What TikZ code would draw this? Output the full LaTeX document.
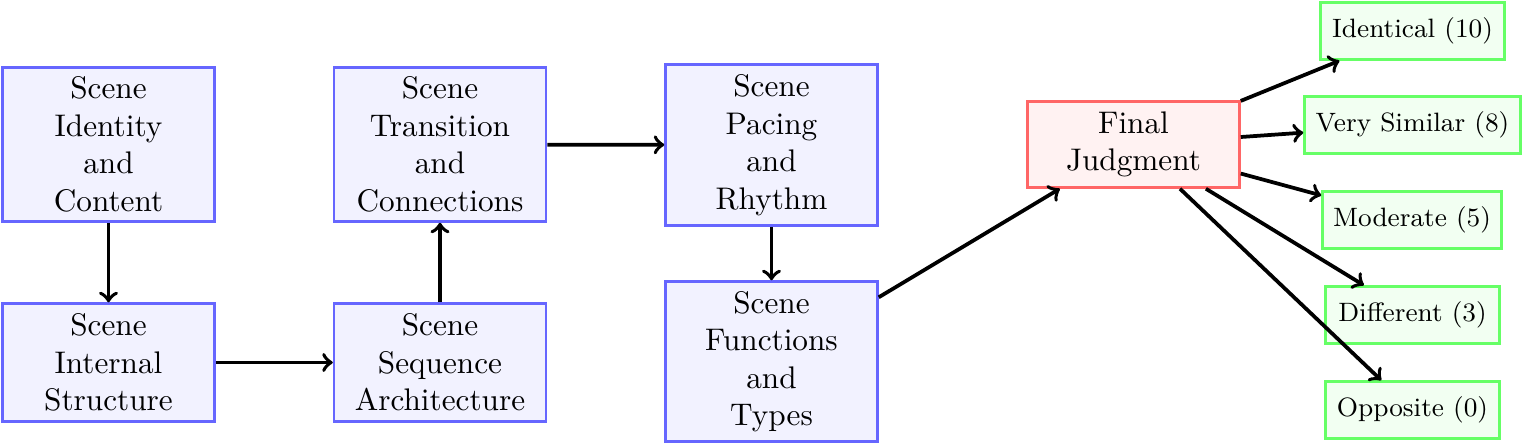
\documentclass[tikz,border=0pt]{standalone}
\begin{document}
\begin{tikzpicture}[x=0.32pt,y=-0.32pt,
  box/.style={draw, thick, rectangle, align=center, inner sep=0pt},
  bluebox/.style={box, draw=blue!60, fill=blue!5, minimum width=212*0.32pt},
  redbox/.style={box, draw=red!60, fill=red!5, minimum width=212*0.32pt, minimum height=86*0.32pt},
  greenbox/.style={box, draw=green!60, fill=green!5, minimum height=57*0.32pt, font=\fontsize{8.5pt}{10pt}\selectfont},
  arr/.style={->, very thick, black}]
\useasboundingbox (0,0) rectangle (1522,446);
\node[bluebox, minimum height=154*0.32pt] (id) at (108.5,144.5) {Scene\\Identity\\and\\Content};
\node[bluebox, minimum height=118*0.32pt] (internal) at (108.5,362.5) {Scene\\Internal\\Structure};
\node[bluebox, minimum height=118*0.32pt] (seq) at (440,362.5) {Scene\\Sequence\\Architecture};
\node[bluebox, minimum height=154*0.32pt] (trans) at (440,144.5) {Scene\\Transition\\and\\Connections};
\node[bluebox, minimum height=161*0.32pt] (pacing) at (771.5,145) {Scene\\Pacing\\and\\Rhythm};
\node[bluebox, minimum height=160*0.32pt] (func) at (771.5,361.5) {Scene\\Functions\\and\\Types};
\node[redbox] (final) at (1133.5,144.5) {Final\\Judgment};
\node[greenbox, minimum width=184*0.32pt] (identical) at (1412.5,31) {Identical (10)};
\node[greenbox, minimum width=216*0.32pt] (similar) at (1412.5,125) {Very Similar (8)};
\node[greenbox, minimum width=179*0.32pt] (moderate) at (1412,220) {Moderate (5)};
\node[greenbox, minimum width=174*0.32pt] (different) at (1412.5,315) {Different (3)};
\node[greenbox, minimum width=174*0.32pt] (opposite) at (1412.5,410) {Opposite (0)};
\draw[arr] (id) -- (internal);
\draw[arr] (internal) -- (seq);
\draw[arr] (seq) -- (trans);
\draw[arr] (trans) -- (pacing);
\draw[arr] (pacing) -- (func);
\draw[arr] (func) -- (final);
\draw[arr] (final) -- (identical);
\draw[arr] (final) -- (similar);
\draw[arr] (final) -- (moderate);
\draw[arr] (final) -- (different);
\draw[arr] (final) -- (opposite);
\end{tikzpicture}
\end{document}
